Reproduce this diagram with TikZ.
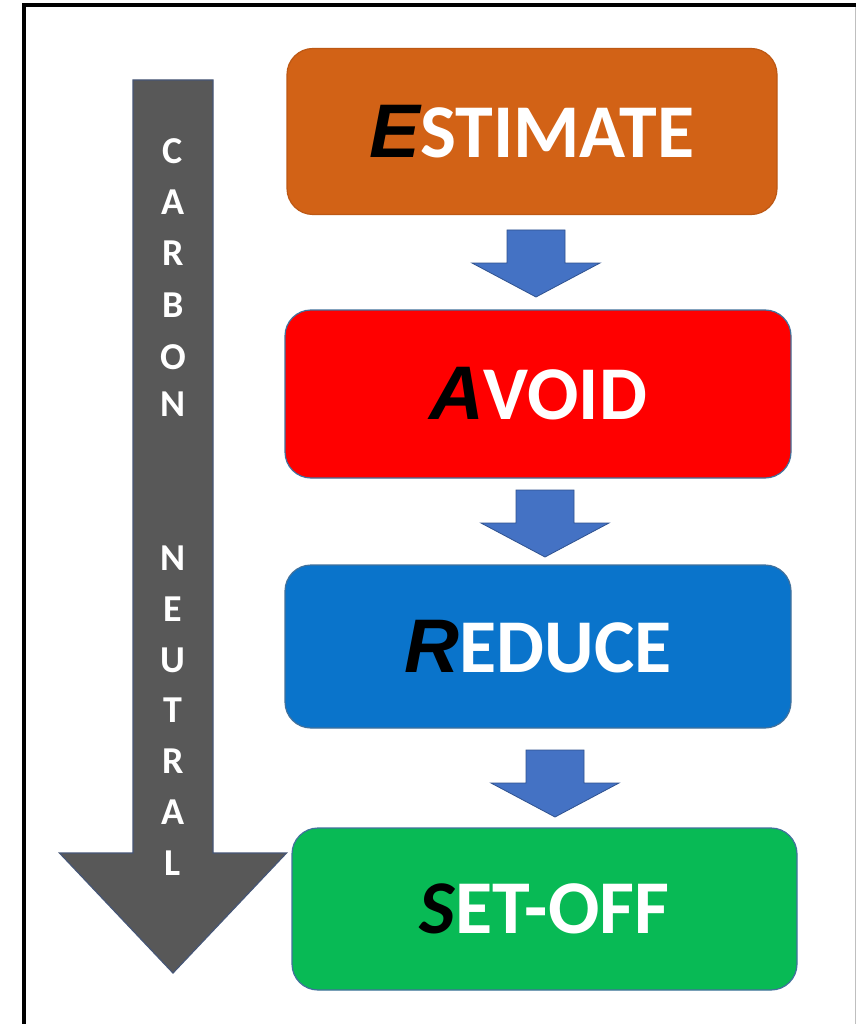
\documentclass[tikz,border=0pt]{standalone}
\usepackage{fontspec}
\setmainfont{Carlito}
\newfontfamily\leadfont{Liberation Sans}
\usetikzlibrary{calc}
\definecolor{estfill}{RGB}{210,98,22}
\definecolor{avofill}{RGB}{255,0,0}
\definecolor{redfill}{RGB}{10,116,203}
\definecolor{setfill}{RGB}{8,186,85}
\definecolor{boxline}{RGB}{65,113,156}
\definecolor{flowfill}{RGB}{68,114,196}
\definecolor{flowline}{RGB}{47,82,143}
\definecolor{cnfill}{RGB}{88,88,88}
\definecolor{cnline}{RGB}{70,86,118}
\newcommand\leadA[1]{{\leadfont\bfseries\itshape\color{black}#1}}
\newcommand\leadB[1]{{\bfseries\itshape\color{black}#1}}
\begin{document}
\begin{tikzpicture}[x=1pt,y=-1pt,
  stagebox/.style={rounded corners=26pt, draw=boxline, line width=1.2pt,
    minimum width=490pt, minimum height=166pt, inner sep=0pt,
    text=white, font=\fontsize{76}{76}\selectfont\bfseries},
  flowarrow/.style={fill=flowfill, draw=flowline, line width=0.8pt},
  cnletter/.style={text=white, inner sep=0pt, font=\fontsize{38}{38}\selectfont\bfseries}]
  \useasboundingbox (0,0) rectangle (856,1024);
  \fill[white] (0,0) rectangle (856,1024);
  % frame
  \draw[line width=4pt] (23.5,1024) -- (23.5,5) -- (856,5);
  \draw[line width=1pt, black!25] (855,7) -- (855,1024);

  % the four stages
  \node[stagebox, fill=estfill, draw=estfill!90!black] (est) at (532,131.5) {\leadA{E}STIMATE};
  \node[stagebox, fill=avofill, minimum width=506pt, minimum height=168pt] (avo) at (538,394) {\leadA{A}VOID};
  \node[stagebox, fill=redfill, minimum width=506pt, minimum height=163pt] (red) at (538,646.5) {\leadA{R}EDUCE};
  \node[stagebox, fill=setfill, minimum width=505pt, minimum height=162pt] (set) at (544.5,909) {\leadB{S}ET-OFF};

  % block arrows between the stages
  \coordinate (f1) at (536,230);
  \coordinate (f2) at (545,490);
  \coordinate (f3) at (555,750);
  \foreach \f in {f1,f2,f3}
    \draw[flowarrow] (\f) ++(-29,0) -- ++(58,0) -- ++(0,33) -- ++(35,0)
      -- ++(-64,34) -- ++(-64,-34) -- ++(35,0) -- cycle;

  % carbon neutral arrow
  \coordinate (cntop) at (173,80);
  \coordinate (cntip) at (173,973);
  \draw[fill=cnfill, draw=cnline, line width=1.2pt]
    (cntop) ++(-40,0) -- ++(80,0) -- ++(0,773) -- ++(73.5,0) -- (cntip)
    -- ++(-113.5,-120) -- ++(73.5,0) -- cycle;
  \foreach \l/\yy [count=\i] in {C/151,A/202,R/253,B/305,O/357,N/404,
      N/558,E/609,U/660,T/710,R/761,A/812,L/863}
    \node[cnletter] (cn\i) at (173,\yy) {\l};
\end{tikzpicture}
\end{document}
